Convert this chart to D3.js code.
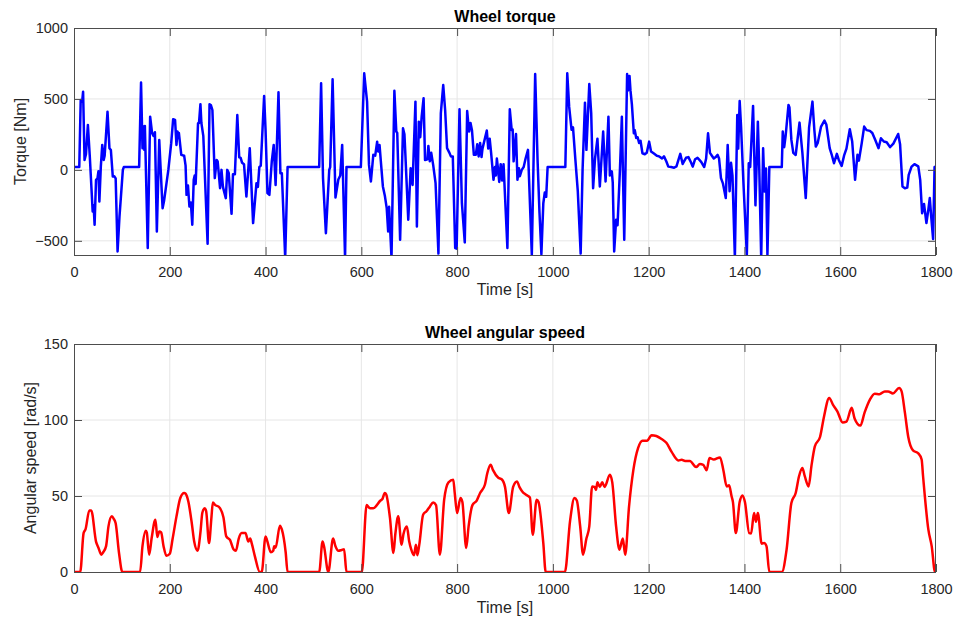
<!DOCTYPE html>
<html>
<head>
<meta charset="utf-8">
<script src="https://cdn.jsdelivr.net/npm/d3@7"></script>
<style>
    body { margin: 0; background: #fff; }
    svg { display: block; font-family: "Liberation Sans", Arial, Helvetica, sans-serif; }
</style>
</head>
<body>
<svg id="chart" width="959" height="625"></svg>
<script>
// --- Data: [time s, value] ---
const torqueData = [
    [0,20],[11,20],[14,493],[17,480],[19,551],[22,70],[25,110],[29,317],[33,94],[39,-293],[41,-250],[43,-387],
    [46,-70],[49,-60],[51,-10],[53,-223],[56,23],[59,176],[62,70],[64,100],[70,410],[74,153],[77,140],[81,-47],
    [84,-45],[87,-60],[91,-575],[95,-329],[98,-188],[102,0],[104,20],[136,20],[140,615],[143,153],[145,305],
    [147,141],[148,310],[154,-551],[159,375],[163,260],[166,240],[169,265],[173,-434],[178,211],[181,0],[185,-270],
    [188,-220],[197,0],[203,188],[207,357],[211,352],[214,176],[216,270],[218,225],[219,260],[224,106],[230,100],
    [233,30],[235,-176],[238,-110],[241,-258],[244,-230],[247,-387],[250,-70],[252,-40],[254,-100],[259,329],
    [261,330],[264,463],[266,330],[270,240],[279,-521],[283,463],[286,455],[289,422],[294,-58],[298,70],[300,60],
    [305,-129],[308,0],[311,-120],[317,-199],[320,0],[323,-20],[329,-310],[332,-30],[336,-30],[341,387],[345,89],
    [348,85],[351,50],[355,40],[360,-188],[367,153],[374,-375],[381,-94],[384,-120],[387,20],[390,30],[397,521],
    [400,280],[404,-164],[408,-176],[413,59],[417,176],[421,-106],[427,547],[431,-23],[434,-23],[441,-620],[446,20],
    [512,20],[516,610],[520,-60],[526,-446],[533,0],[535,20],[540,639],[546,-195],[552,-68],[556,-40],[560,176],
    [566,-620],[569,20],[599,20],[606,681],[612,481],[616,35],[620,-82],[625,106],[629,100],[633,199],[635,130],
    [638,176],[641,50],[645,-117],[649,-180],[653,-270],[656,-434],[658,-260],[663,-620],[669,558],[673,270],
    [675,260],[681,-493],[687,293],[690,250],[692,106],[698,-352],[703,12],[707,-106],[713,481],[716,-399],
    [720,340],[723,230],[726,375],[730,505],[733,70],[738,75],[740,169],[743,60],[746,120],[750,35],[755,-94],
    [761,-590],[766,399],[771,598],[775,422],[779,153],[784,120],[787,95],[791,95],[796,-551],[799,-555],
    [805,427],[810,-235],[816,-511],[821,415],[825,270],[828,330],[831,280],[835,106],[839,106],[842,180],
    [845,95],[848,190],[851,90],[853,150],[862,277],[865,150],[868,220],[871,120],[876,-70],[879,20],[881,-40],
    [883,80],[885,20],[888,-85],[891,40],[894,-75],[897,40],[905,-551],[910,427],[914,280],[916,285],[918,60],
    [923,253],[926,-70],[929,12],[931,-45],[935,0],[939,20],[943,80],[948,141],[956,-600],[963,676],[968,70],
    [972,-300],[976,-595],[980,-235],[983,-160],[986,-190],[989,20],[1026,20],[1030,681],[1034,444],[1039,282],
    [1042,300],[1047,70],[1052,-150],[1058,-590],[1062,0],[1067,474],[1070,141],[1076,605],[1080,400],[1084,-129],
    [1088,80],[1093,220],[1098,-117],[1105,270],[1110,-82],[1116,375],[1119,-40],[1123,-10],[1125,-90],
    [1128,-575],[1132,-352],[1135,-390],[1140,0],[1144,375],[1149,-493],[1155,676],[1157,560],[1160,662],
    [1162,560],[1165,460],[1169,258],[1171,280],[1174,225],[1177,230],[1180,190],[1183,205],[1187,117],[1192,110],
    [1196,120],[1201,199],[1205,130],[1211,115],[1217,100],[1222,95],[1228,80],[1232,95],[1237,59],[1241,23],
    [1247,20],[1253,15],[1258,25],[1266,113],[1271,42],[1278,85],[1283,90],[1288,55],[1292,23],[1297,75],
    [1302,85],[1306,70],[1310,55],[1316,20],[1320,80],[1324,258],[1328,120],[1332,100],[1336,80],[1340,90],
    [1344,106],[1347,80],[1351,-58],[1355,-95],[1361,-199],[1365,176],[1369,-150],[1372,50],[1375,-40],
    [1380,-620],[1385,387],[1387,150],[1390,486],[1393,300],[1398,-100],[1405,-600],[1409,47],[1412,20],
    [1418,451],[1423,-250],[1428,340],[1431,0],[1435,-620],[1439,153],[1442,-153],[1445,10],[1448,-600],
    [1452,20],[1478,20],[1480,270],[1483,160],[1486,240],[1492,458],[1494,440],[1498,211],[1502,120],[1507,105],
    [1515,333],[1521,120],[1528,-199],[1535,300],[1542,481],[1546,280],[1549,164],[1553,190],[1560,305],
    [1567,347],[1571,320],[1578,153],[1582,110],[1587,47],[1593,113],[1597,70],[1603,28],[1608,100],[1613,150],
    [1620,287],[1625,200],[1631,-70],[1636,106],[1639,65],[1645,190],[1650,305],[1655,280],[1662,275],[1667,260],
    [1673,212],[1680,153],[1685,223],[1691,200],[1697,195],[1704,160],[1711,185],[1721,253],[1725,180],
    [1730,-117],[1735,-130],[1740,-125],[1743,-35],[1749,23],[1755,40],[1763,25],[1767,-70],[1771,-305],
    [1775,-240],[1780,-375],[1784,-280],[1787,-199],[1790,-330],[1794,-488],[1797,20],[1800,23]
];

const speedData = [
    [0,0],[13,0],[20,25.6],[24,28],[32,40.5],[36,40.5],[46,20],[51,16],[57,11.4],[61,13],[67,17],[72,30],
    [79,36.6],[83,35],[87,32],[94,12.5],[101,0],[138,0],[143,17],[150,27.2],[152,26],[157,11.4],[162,22],
    [170,34.4],[174,23],[178,26.6],[182,26],[187,17],[193,10.7],[200,12],[206,22],[214,36.6],[222,48.7],
    [230,52],[233,51.5],[239,46],[246,32],[251,20],[258,14],[264,26],[268,39],[273,42],[276,40],[282,19],
    [287,36],[290,45.8],[295,44],[302,43],[312,36],[318,23.4],[326,21],[333,15],[338,14],[344,22],[350,25.6],
    [358,25.6],[364,20],[368,22],[371,19],[378,10],[388,0],[392,0],[400,23.4],[403,21],[411,13],[416,14],
    [418,17],[421,16],[430,30.5],[434,28],[442,13],[446,0],[512,0],[519,20],[522,17],[531,0],[541,22],[546,17],
    [552,14],[559,14.5],[564,15],[569,0],[601,0],[611,44],[618,42],[625,42],[640,47],[644,48],[649,52],[652,51],
    [660,35],[667,12.5],[671,25],[677,36.6],[684,18],[688,25],[695,30],[700,20],[704,15],[710,11],[714,18],
    [717,11],[721,18],[729,37.7],[736,40],[743,43],[750,45.8],[756,44],[764,11.4],[773,47.6],[782,59],
    [792,60.7],[795,52],[800,38.8],[807,48.7],[811,46],[819,15.8],[824,30],[832,44],[841,47],[848,52],
    [858,57.4],[863,65],[870,70.6],[875,67],[886,62],[893,61],[900,56],[908,38.8],[917,56],[925,59.6],
    [930,56],[936,53],[944,50.8],[952,49],[958,24.5],[966,47.6],[970,46],[980,19],[985,0],[1025,0],[1036,34],
    [1045,48.7],[1050,47],[1057,30],[1063,11.4],[1070,22],[1076,30],[1082,56.3],[1087,56],[1090,54],[1093,59],
    [1098,56],[1103,59],[1108,56],[1119,64],[1124,59],[1132,30],[1139,14.7],[1146,22],[1151,11.4],[1159,43],
    [1168,67],[1178,81.6],[1187,86.4],[1197,86.4],[1206,90],[1216,89.5],[1227,87.5],[1237,85],[1248,79],
    [1262,73.4],[1269,73.8],[1276,73],[1286,73],[1299,69],[1307,71],[1314,70.5],[1321,67],[1327,75],[1336,74],
    [1349,75.4],[1356,67],[1363,56.3],[1368,57],[1373,50],[1376,46],[1382,25.6],[1390,46],[1396,50.4],
    [1401,46],[1410,25.6],[1414,25.4],[1420,38.8],[1424,33],[1428,38.8],[1436,18.6],[1441,19],[1446,17],
    [1452,0],[1478,0],[1488,14.7],[1498,45.4],[1507,52],[1514,63],[1521,68.4],[1526,63],[1534,56.3],[1540,70],
    [1547,82.6],[1558,89],[1566,102],[1577,114.5],[1585,110],[1594,105.7],[1605,98.4],[1613,99],[1624,108],
    [1630,101],[1642,96.3],[1651,105],[1662,113.4],[1672,117.3],[1682,117],[1693,118.8],[1700,118.8],
    [1710,117.5],[1723,121],[1728,119],[1735,105],[1742,89],[1752,80],[1763,78],[1770,74],[1773,63],
    [1784,28],[1791,17],[1798,0],[1800,0]
];

const timeTicks = [0, 200, 400, 600, 800, 1000, 1200, 1400, 1600, 1800];
const torqueTicks = [-500, 0, 500, 1000];
const speedTicks = [0, 50, 100, 150];

const svg = d3.select("#chart");
const left = 74, right = 936;
const axisColor = "#4d4d4d";
const textColor = "#262626";

function drawPanel(p) {
    const x = d3.scaleLinear().domain([0, 1800]).range([left, right]);
    const y = d3.scaleLinear().domain(p.yDomain).range([p.bottom, p.top]);
    const g = svg.append("g");

    // grid
    g.append("g").selectAll("line").data(timeTicks.slice(1, -1)).join("line")
        .attr("x1", d => x(d)).attr("x2", d => x(d))
        .attr("y1", p.top).attr("y2", p.bottom)
        .attr("stroke", "#e6e6e6").attr("stroke-width", 1);
    g.append("g").selectAll("line").data(p.yTicks.filter(v => v > p.yDomain[0] && v < p.yDomain[1])).join("line")
        .attr("x1", left).attr("x2", right)
        .attr("y1", d => y(d)).attr("y2", d => y(d))
        .attr("stroke", "#e6e6e6").attr("stroke-width", 1);

    // clip + line
    svg.append("clipPath").attr("id", p.id + "-clip")
        .append("rect").attr("x", left).attr("y", p.top)
        .attr("width", right - left).attr("height", p.bottom - p.top);

    const line = d3.line().x(d => x(d[0])).y(d => y(d[1]));
    if (p.smooth) line.curve(d3.curveMonotoneX);
    g.append("path").datum(p.data)
        .attr("clip-path", `url(#${p.id}-clip)`)
        .attr("fill", "none")
        .attr("stroke", p.color)
        .attr("stroke-width", 2.5)
        .attr("stroke-linejoin", "round")
        .attr("d", line);

    // axes with inward ticks (box style)
    const fmt = d3.format("d");
    const xb = g.append("g").attr("transform", `translate(0,${p.bottom})`)
        .call(d3.axisBottom(x).tickValues(timeTicks).tickSizeInner(-8).tickSizeOuter(0).tickPadding(12).tickFormat(fmt));
    const xt = g.append("g").attr("transform", `translate(0,${p.top})`)
        .call(d3.axisTop(x).tickValues(timeTicks).tickSizeInner(-8).tickSizeOuter(0).tickFormat(""));
    const yl = g.append("g").attr("transform", `translate(${left},0)`)
        .call(d3.axisLeft(y).tickValues(p.yTicks).tickSizeInner(-8).tickSizeOuter(0).tickPadding(6).tickFormat(fmt));
    const yr = g.append("g").attr("transform", `translate(${right},0)`)
        .call(d3.axisRight(y).tickValues(p.yTicks).tickSizeInner(-8).tickSizeOuter(0).tickFormat(""));

    [xb, xt, yl, yr].forEach(a => {
        a.select(".domain").remove();
        a.selectAll("line").attr("stroke", axisColor);
        a.selectAll("text").attr("fill", textColor).style("font-size", "14.5px")
            .style("font-family", '"Liberation Sans", Arial, Helvetica, sans-serif');
    });

    // box
    g.append("rect").attr("x", left + 0.5).attr("y", p.top + 0.5)
        .attr("width", right - left - 1).attr("height", p.bottom - p.top)
        .attr("fill", "none").attr("stroke", axisColor).attr("stroke-width", 1);

    // title
    g.append("text").attr("x", (left + right) / 2).attr("y", p.titleY)
        .attr("text-anchor", "middle").attr("font-weight", "bold")
        .attr("font-size", "16px").attr("fill", "#000")
        .text(p.title);

    // x label
    g.append("text").attr("x", (left + right) / 2).attr("y", p.xLabelY)
        .attr("text-anchor", "middle").attr("font-size", "16px").attr("fill", textColor)
        .text("Time [s]");

    // y label
    const cy = (p.top + p.bottom) / 2;
    g.append("text").attr("transform", `translate(${p.yLabelX},${cy}) rotate(-90)`)
        .attr("text-anchor", "middle").attr("font-size", "16px").attr("fill", textColor)
        .text(p.yLabel);
}

drawPanel({
    id: "torque", data: torqueData, color: "#0000ff",
    top: 28, bottom: 255, yDomain: [-600, 1000], yTicks: torqueTicks,
    title: "Wheel torque", titleY: 22, xLabelY: 295,
    yLabel: "Torque [Nm]", yLabelX: 26, smooth: false
});

drawPanel({
    id: "speed", data: speedData, color: "#ff0000",
    top: 344, bottom: 572, yDomain: [0, 150], yTicks: speedTicks,
    title: "Wheel angular speed", titleY: 338, xLabelY: 613,
    yLabel: "Angular speed [rad/s]", yLabelX: 36, smooth: true
});
</script>
</body>
</html>
